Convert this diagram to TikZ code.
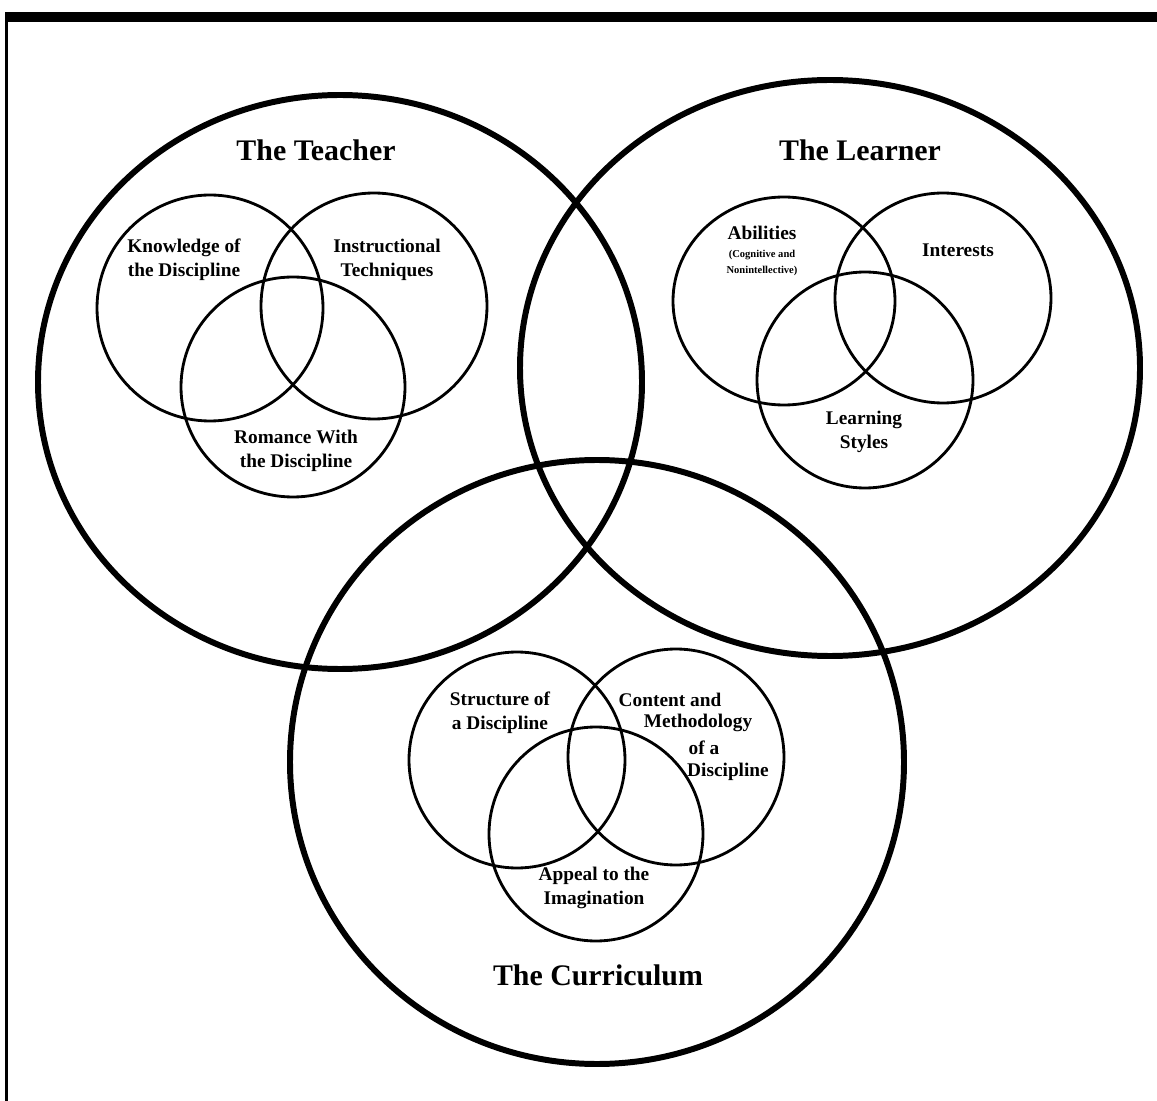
\documentclass[tikz,border=0pt]{standalone}
\usepackage{fontspec}
\setmainfont{Liberation Serif}
\usepackage{tikz}
\usetikzlibrary{positioning}

\tikzset{
  bigring/.style={line width=3.4pt},
  smallring/.style={line width=1.6pt},
  title/.style={font=\bfseries\fontsize{17}{20}\selectfont},
  label/.style={font=\bfseries\fontsize{11}{13.5}\selectfont, align=center},
  tinylabel/.style={font=\bfseries\fontsize{6}{9}\selectfont, align=center}
}

\begin{document}
\begin{tikzpicture}[x=0.02cm,y=-0.02cm]
\useasboundingbox (0,0) rectangle (1157,1101);

% Frame
\draw[line width=5.5pt] (5,17) -- (1157,17);
\draw[line width=1.8pt] (6.5,15) -- (6.5,1101);

% The three big rings
\draw[bigring] (340,382) circle [x radius=302, y radius=287];
\draw[bigring] (830,368) circle [x radius=310, y radius=288];
\draw[bigring] (597,762) circle [x radius=307, y radius=302];

% Teacher
\draw[smallring] (210,308) circle [radius=113];
\draw[smallring] (374,306) circle [radius=113];
\draw[smallring] (293,387) circle [x radius=112, y radius=110];
\node[title] (teacher) at (316,150) {The Teacher};
\node[label] (knowledge) at (184,260) {Knowledge of\\the Discipline};
\node[label] (instruct) at (387,260) {Instructional\\Techniques};
\node[label] (romance) at (296,451) {Romance With\\the Discipline};

% Learner
\draw[smallring] (784,301) circle [x radius=111, y radius=104];
\draw[smallring] (943,298) circle [x radius=108, y radius=105];
\draw[smallring] (865,380) circle [radius=108];
\node[title] (learner) at (860,150) {The Learner};
\node[label] (abilities) at (762,233) {Abilities};
\node[tinylabel, below=-1pt of abilities] (abilnote) {(Cognitive and\\Nonintellective)};
\node[label] (interests) at (958,250) {Interests};
\node[label] (styles) at (864,432) {Learning\\Styles};

% Curriculum
\draw[smallring] (517,760) circle [radius=108];
\draw[smallring] (676,757) circle [radius=108];
\draw[smallring] (596,834) circle [radius=107];
\node[title] (curriculum) at (598,975) {The Curriculum};
\node[label] (structure) at (500,713) {Structure of\\a Discipline};
\node[label] (content1) at (670,700) {Content and};
\node[label] (content2) at (698,723) {Methodology};
\node[label] (content3) at (704,748) {of a};
\node[label] (content4) at (728,772) {Discipline};
\node[label] (appeal) at (594,888) {Appeal to the\\Imagination};
\end{tikzpicture}
\end{document}
